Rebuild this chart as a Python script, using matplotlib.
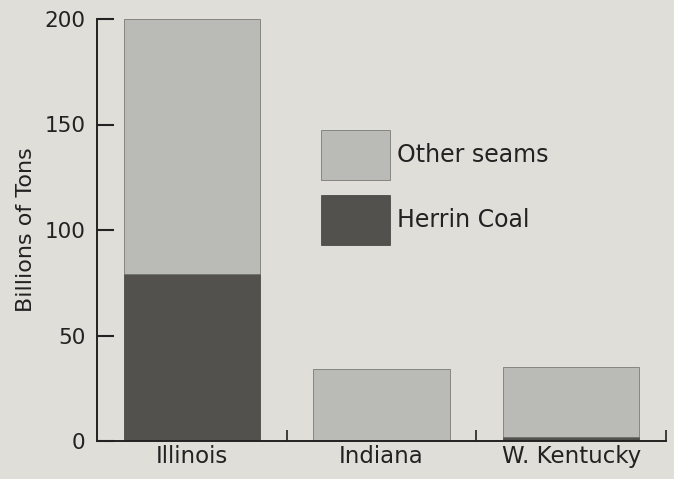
import matplotlib
matplotlib.use('Agg')
import matplotlib.pyplot as plt
import numpy as np

states = ['Illinois', 'Indiana', 'W. Kentucky']
herrin = [79, 0, 2]
other = [121, 34, 33]
yticks = [0, 50, 100, 150, 200]

BG = '#dfded9'
LIGHT = '#babab6'
DARK = '#52514d'

plt.rcParams['font.family'] = ['DejaVu Sans']

fig = plt.figure(figsize=(6.74, 4.79), dpi=100, facecolor=BG)
ax = fig.add_axes([97 / 674, 1 - 441 / 479, 569 / 674, 422 / 479])
ax.set_facecolor(BG)

x = np.arange(len(states))
ax.bar(x, herrin, width=0.72, color=DARK, edgecolor='#3c3b38', linewidth=0.5,
       label='Herrin Coal')
ax.bar(x, other, width=0.72, bottom=herrin, color=LIGHT, edgecolor='#6a6a66',
       linewidth=0.5, label='Other seams')

ax.set_xlim(-0.5, 2.5)
ax.set_ylim(0, 200)
ax.set_yticks(yticks)
ax.set_xticks(x)
ax.set_xticklabels(states, fontsize=16.5, color='#222222')
ax.set_xticks([0.5, 1.5, 2.5], minor=True)
ax.tick_params(axis='x', which='major', length=0, pad=3)
ax.tick_params(axis='x', which='minor', direction='in', length=8, width=1.2, color='#222222')
ax.tick_params(axis='y', direction='in', length=12, width=1.5, labelsize=15.5,
               color='#222222', labelcolor='#222222', pad=8.5)

for s in ['top', 'right']:
    ax.spines[s].set_visible(False)
for s in ['left', 'bottom']:
    ax.spines[s].set_linewidth(1.4)
    ax.spines[s].set_color('#222222')

ax.set_ylabel('Billions of Tons', fontsize=16, labelpad=6, color='#222222')

# legend boxes: ~69x50 px, 15 px apart
h, l = ax.get_legend_handles_labels()
leg = ax.legend(h[::-1], l[::-1], loc='upper left', bbox_to_anchor=(0.394, 0.737),
                frameon=False, fontsize=17, handlelength=2.92, handleheight=2.88,
                labelspacing=0.64, handletextpad=0.3, borderpad=0, borderaxespad=0)
for t in leg.get_texts():
    t.set_color('#222222')

fig.savefig('out.png', dpi=100, facecolor=BG)
